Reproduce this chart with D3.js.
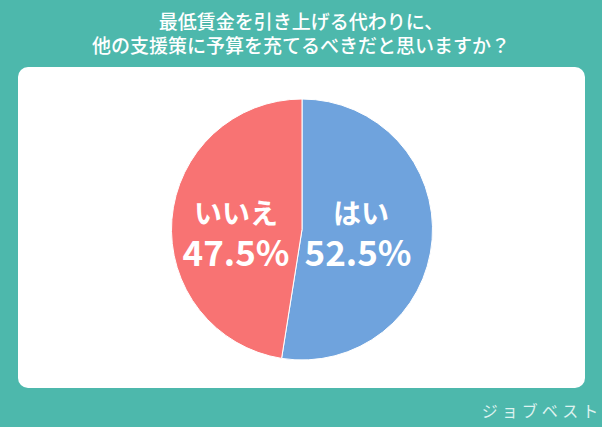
<!DOCTYPE html>
<html><head><meta charset="utf-8">
<script src="https://cdn.jsdelivr.net/npm/d3@7/dist/d3.min.js"></script>
<style>html,body{margin:0;padding:0;background:#4DB8AC;}svg{display:block;}</style>
</head><body>
<svg id="c" width="602" height="427"></svg>
<script>
const titleLines = ["最低賃金を引き上げる代わりに、", "他の支援策に予算を充てるべきだと思いますか？"];
const categories = ["はい", "いいえ"];
const values = [52.5, 47.5];
const colors = ["#6FA3DD", "#F87373"];
const brand = "ジョブベスト";

const svg = d3.select("#c");
const font = "'Noto Sans CJK JP', 'Noto Sans', sans-serif";
svg.append("rect").attr("width", 602).attr("height", 427).attr("fill", "#4DB8AC");
svg.append("rect").attr("x", 18).attr("y", 67).attr("width", 567).attr("height", 321)
  .attr("rx", 10).attr("fill", "#ffffff");

svg.selectAll("text.title").data(titleLines).join("text")
  .attr("class", "title")
  .attr("x", 301).attr("y", (d, i) => 29 + i * 24)
  .attr("text-anchor", "middle").attr("fill", "#ffffff")
  .style("font-family", font).style("font-size", "19px").style("font-weight", 500)
  .text(d => d);

const cx = 302, cy = 229.5, r = 130.5;
const pie = d3.pie().sort(null).value(d => d.v);
const arcs = pie(categories.map((c, i) => ({c, v: values[i], col: colors[i]})));
const arc = d3.arc().innerRadius(0).outerRadius(r);
const g = svg.append("g").attr("transform", `translate(${cx},${cy})`);
g.selectAll("path").data(arcs).join("path")
  .attr("d", arc).attr("fill", d => d.data.col)
  .attr("stroke", "#ffffff").attr("stroke-width", 1);

const labelPos = [[59, 0], [-66, 0]];
arcs.forEach((a, i) => {
  const [lx, ly] = labelPos[i];
  g.append("text").attr("x", lx).attr("y", -6 + ly).attr("text-anchor", "middle")
    .attr("fill", "#ffffff").style("font-family", font).style("font-size", "28px").style("font-weight", 700)
    .text(a.data.c);
  g.append("text").attr("x", lx - (i === 0 ? 3 : 0)).attr("y", 36 + ly).attr("text-anchor", "middle")
    .attr("fill", "#ffffff").style("font-family", font).style("font-size", "35px").style("font-weight", 700)
    .text(d3.format(".1f")(a.data.v) + "%");
});

svg.append("text").attr("x", 542).attr("y", 417).attr("text-anchor", "middle")
  .attr("fill", "#DDF2EF").style("font-family", font).style("font-size", "16px")
  .style("font-weight", 400).style("letter-spacing", "4px")
  .text(brand);
</script>
</body></html>
